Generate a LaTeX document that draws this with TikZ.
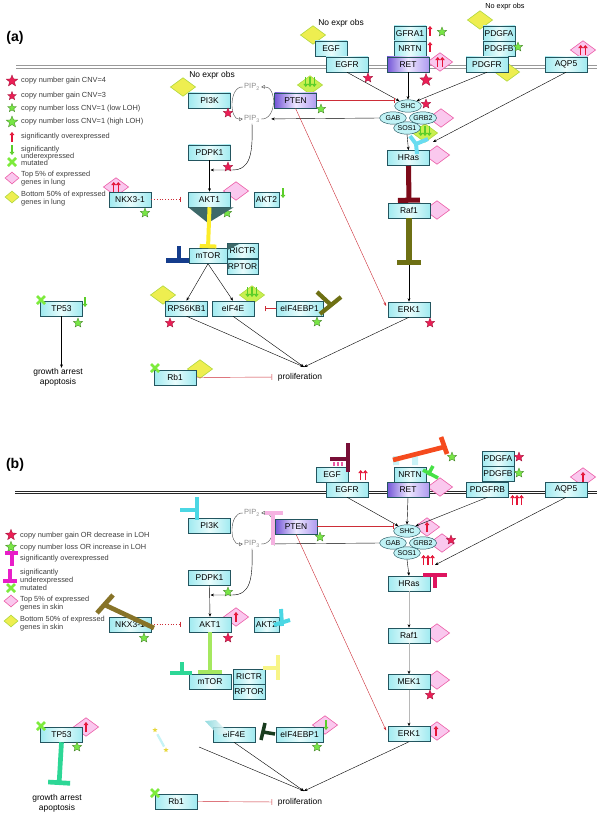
\documentclass[tikz,border=0pt]{standalone}
\usepackage{fontspec}
\setmainfont{Liberation Sans}
\usetikzlibrary{shapes.geometric,arrows.meta,positioning,calc,backgrounds}
\definecolor{BoxCyan}{RGB}{160,234,240}
\definecolor{BoxLight}{RGB}{232,252,252}
\definecolor{BoxLine}{RGB}{35,85,95}
\definecolor{PurpDark}{RGB}{115,85,215}
\definecolor{PurpMid}{RGB}{175,155,240}
\definecolor{PurpLight}{RGB}{238,232,255}
\definecolor{InhRed}{RGB}{205,45,55}
\definecolor{StarRed}{RGB}{235,30,85}
\definecolor{StarGreen}{RGB}{120,230,70}
\definecolor{DiaYellow}{RGB}{238,238,80}
\definecolor{DiaYellowLine}{RGB}{175,215,60}
\definecolor{DiaPink}{RGB}{250,200,238}
\definecolor{DiaPinkLine}{RGB}{235,90,165}
\definecolor{DiaLime}{RGB}{200,240,80}
\definecolor{UpRed}{RGB}{228,20,55}
\definecolor{DownGreen}{RGB}{90,205,40}
\definecolor{MutGreen}{RGB}{125,235,60}
\definecolor{PipGray}{RGB}{140,140,140}
\definecolor{LegText}{RGB}{60,60,60}
\definecolor{WedgeGray}{RGB}{62,105,105}
\definecolor{BarMaroon}{RGB}{125,10,25}
\definecolor{BarOlive}{RGB}{110,112,20}
\definecolor{BarYellow}{RGB}{252,236,40}
\definecolor{BarNavy}{RGB}{20,60,140}
\definecolor{BarCyan}{RGB}{105,220,240}
\definecolor{EgfMaroon}{RGB}{120,15,55}
\definecolor{OrangeRed}{RGB}{245,75,30}
\definecolor{LimeGreen}{RGB}{70,225,70}
\definecolor{HotPink}{RGB}{222,20,95}
\definecolor{LightPink}{RGB}{245,178,225}
\definecolor{CyanB}{RGB}{75,215,228}
\definecolor{BrownOlive}{RGB}{135,115,40}
\definecolor{LightGreen}{RGB}{165,232,95}
\definecolor{SeaGreen}{RGB}{45,215,150}
\definecolor{PaleYellow}{RGB}{248,245,135}
\definecolor{DarkLeaf}{RGB}{25,60,30}
\definecolor{LegMagenta}{RGB}{232,30,200}
\definecolor{SmallYellow}{RGB}{230,215,60}
\newcommand{\genefont}{\fontsize{7.2}{8}\selectfont}
\newcommand{\cplxfont}{\fontsize{6}{7}\selectfont}
\newcommand{\notefont}{\fontsize{7.2}{8.6}\selectfont}
\newcommand{\smallnote}{\fontsize{6.2}{7}\selectfont}
\newcommand{\legfont}{\fontsize{6.3}{7}\selectfont}
\newcommand{\pipfont}{\fontsize{6.4}{7}\selectfont}
\newcommand{\panelfont}{\bfseries\fontsize{12}{14}\selectfont}
% little expression marks
\newcommand{\upone}[2]{\draw[upa] (#1,#2+5) -- (#1,#2-5);}
\newcommand{\uptwo}[2]{\upone{#1-2.3}{#2}\upone{#1+2.3}{#2}}
\newcommand{\upthree}[2]{\upone{#1-4.4}{#2}\upone{#1}{#2}\upone{#1+4.4}{#2}}
\newcommand{\dnone}[2]{\draw[dna] (#1,#2-5) -- (#1,#2+5);}
\newcommand{\dnthree}[2]{\dnone{#1-4.2}{#2}\dnone{#1}{#2}\dnone{#1+4.2}{#2}}
\newcommand{\mutmark}[2]{\draw[mutx] (#1-4,#2-4) -- (#1+4,#2+4) (#1-4,#2+4) -- (#1+4,#2-4);}
\tikzset{
  gene/.style={draw=BoxLine,line width=0.45pt,left color=BoxCyan,right color=BoxCyan,
               middle color=BoxLight,minimum width=1.26cm,minimum height=0.45cm,
               inner sep=0pt,font=\genefont},
  narrow/.style={minimum width=0.96cm},
  slim/.style={minimum width=0.75cm},
  broad/.style={minimum width=1.41cm},
  purpbox/.style={left color=PurpDark,right color=PurpMid,middle color=PurpLight},
  cplx/.style={ellipse,draw=BoxLine,line width=0.4pt,fill=BoxCyan!55!BoxLight,
               minimum width=0.8cm,minimum height=0.37cm,inner sep=0pt,font=\cplxfont},
  arr/.style={-{Stealth[length=3pt,width=2.4pt]},line width=0.35pt},
  inh/.style={-{Bar[width=5pt]},InhRed,line width=0.35pt},
  redarr/.style={-{Stealth[length=3pt,width=2.4pt]},InhRed,line width=0.35pt},
  grayarr/.style={-{Stealth[length=3pt,width=2.4pt,color=black]},black!28,line width=0.8pt},
  cyc/.style={-{Triangle[open,length=3pt,width=3pt]},line width=0.35pt,black!70},
  rstar/.style={star,star points=5,star point ratio=2.3,fill=StarRed,draw=StarRed!70!black,
                line width=0.3pt,minimum size=0.3cm,inner sep=0pt},
  gstar/.style={rstar,fill=StarGreen,draw=StarGreen!60!black},
  bigstar/.style={minimum size=0.39cm},
  ydia/.style={diamond,aspect=1,fill=DiaYellow,draw=DiaYellowLine,line width=0.5pt,
               minimum width=0.76cm,minimum height=0.56cm,inner sep=0pt},
  pdia/.style={ydia,fill=DiaPink,draw=DiaPinkLine},
  ldia/.style={ydia,fill=DiaLime},
  keydia/.style={minimum width=0.42cm,minimum height=0.36cm},
  upa/.style={-{Triangle[length=2.6pt,width=4pt]},UpRed,line width=1.1pt},
  dna/.style={-{Triangle[length=2.6pt,width=4pt]},DownGreen,line width=1.1pt},
  mutx/.style={MutGreen,line width=2.2pt},
  glyph/.style={line width=4pt},
  note/.style={font=\notefont,inner sep=0pt},
  pip/.style={font=\pipfont,text=PipGray,inner sep=1pt},
  legtxt/.style={font=\legfont,text=LegText,anchor=west,inner sep=0pt},
  memA/.style={draw=black!40,double=white,double distance=1.2pt,line width=0.8pt},
  memB/.style={draw=black!85,double=white,double distance=1.3pt,line width=0.55pt},
}

\begin{document}
\begin{tikzpicture}[x=0.03cm,y=-0.03cm]
\useasboundingbox (0,0) rectangle (600,816);
% ================= panel (a): lung =================
\node[font=\panelfont] (labA) at (15,38) {(a)};
\begin{pgfonlayer}{background}
  \draw[memA] (16,67) -- (597,67);
  \node[ydia] (dEGFa) at (313,35) {};
  \node[pdia] (dRETa) at (440,62) {};
  \node[ydia] (dPDGFAa) at (480,20) {};
  \node[ydia] (dPDGFRa) at (507,72) {};
  \node[pdia] (dAQP5a) at (583,50) {};
  \node[ldia] (dPTENa) at (310,85) {};
  \node[ydia] (dPI3Ka) at (183,87) {};
  \node[pdia] (dGRB2a) at (441,118) {};
  \node[ldia] (dSOS1a) at (425,133) {};
  \node[pdia] (dHRasa) at (437,155) {};
  \node[pdia] (dRaf1a) at (437,210) {};
  \node[pdia] (dAKT1a) at (236,191) {};
  \node[pdia] (dNKXa) at (116,187) {};
  \node[ydia] (dRPSa) at (163,295) {};
  \node[ldia] (dEIFa) at (252,295) {};
  \node[ydia] (dRb1a) at (200,369) {};
\end{pgfonlayer}
% receptors and ligands
\node[gene,narrow] (EGFa) at (331,48.5) {EGF};
\node[gene] (EGFRa) at (347,64.5) {EGFR};
\node[gene,narrow] (GFRA1a) at (410,33.5) {GFRA1};
\node[gene,narrow] (NRTNa) at (410,48.5) {NRTN};
\node[gene,purpbox] (RETa) at (408,64.5) {RET};
\node[gene,narrow] (PDGFAa) at (499,33.5) {PDGFA};
\node[gene,narrow] (PDGFBa) at (499,48.5) {PDGFB};
\node[gene] (PDGFRa) at (487,64.5) {PDGFR};
\node[gene] (AQP5a) at (566,64.5) {AQP5};
% PI3K branch
\node[gene] (PI3Ka) at (209.5,100.5) {PI3K};
\node[gene,purpbox] (PTENa) at (295.5,100.5) {PTEN};
\node[pip] (pip2a) at (252,87) {PIP\textsubscript{2}};
\node[pip] (pip3a) at (252,119) {PIP\textsubscript{3}};
\node[gene] (PDPK1a) at (209.5,152.5) {PDPK1};
\node[gene] (AKT1a) at (209.5,199.5) {AKT1};
\node[gene,slim] (AKT2a) at (266.5,199.5) {AKT2};
\node[gene] (NKX31a) at (130,199.5) {NKX3-1};
\node[gene,minimum width=1.14cm] (mTORa) at (208,256) {mTOR};
\node[gene,minimum width=0.93cm] (RICTRa) at (242.5,251) {RICTR};
\node[gene,minimum width=0.93cm] (RPTORa) at (242.5,267) {RPTOR};
\node[gene] (RPS6KB1a) at (186.5,308.5) {RPS6KB1};
\node[gene] (eIF4Ea) at (233,308.5) {eIF4E};
\node[gene,broad] (eIF4EBP1a) at (299.5,308.5) {eIF4EBP1};
\node[gene] (TP53a) at (61.5,308.5) {TP53};
\node[gene] (Rb1a) at (175,377.5) {Rb1};
% MAPK branch
\node[cplx] (SHCa) at (408,106) {SHC};
\node[cplx] (GABa) at (393,118) {GAB};
\node[cplx] (GRB2a) at (423,118) {GRB2};
\node[cplx] (SOS1a) at (407,128) {SOS1};
\node[gene] (HRasa) at (408.5,158) {HRas};
\node[gene] (Raf1a) at (409,210.5) {Raf1};
\node[gene] (ERK1a) at (409,309.5) {ERK1};
\node[note] (prolifA) at (300,377) {proliferation};
\node[note,align=center] (growA) at (58,377) {growth arrest\\apoptosis};
\coordinate (pjA) at (304,367);
\coordinate (akinA) at (210.5,170);
\coordinate (aqpA) at (433,142);
\coordinate (oliveA) at (409,265);
% connections
\draw[arr] (EGFRa.south) -- (SHCa.150);
\draw[arr] (RETa.south) -- (SHCa.north);
\draw[arr] (PDGFRa.south) -- (SHCa.30);
\draw[arr] (AQP5a.south) -- (aqpA);
\draw[arr] (SOS1a.south) -- (HRasa.north);
\draw[inh] (PTENa.east) -- (SHCa.west |- PTENa.east);
\draw[arr,shorten >=0.3cm] (GABa.west) -- (pip3a.east);
\draw[redarr,shorten >=0.12cm] (PTENa.south) -- (ERK1a.west);
\draw[cyc] (pip2a.west) .. controls (229,86) and (229,120) .. (pip3a.west);
\draw[cyc] (pip3a.east) .. controls (277,120) and (277,86) .. (pip2a.east);
\draw[arr] (pip3a.south) .. controls (253,155) and (250,170) .. (232,170) -- (akinA);
\draw[arr] (PDPK1a.south) -- (AKT1a.north);
\draw[inh,dotted,shorten >=0.24cm] (NKX31a.east) -- (AKT1a.west);
\draw[arr] (mTORa.south) -- (RPS6KB1a.north);
\draw[arr] (mTORa.south) -- (eIF4Ea.north);
\draw[inh,shorten >=0.33cm] (eIF4EBP1a.west) -- (eIF4Ea.east);
\draw[arr] (RPS6KB1a.south) -- (pjA);
\draw[arr] (eIF4Ea.south) -- (pjA);
\draw[arr] (ERK1a.south) -- (pjA);
\draw[inh,shorten >=0.17cm] (Rb1a.east) -- (prolifA.west);
\draw[arr] (TP53a.south) -- (TP53a.south |- growA.north);
\draw[arr] (Raf1a.south) -- (ERK1a.north);
% marks
\node[rstar] (sEGFRa) at (368,78) {};
\node[rstar,bigstar] (sRETa) at (426,80) {};
\node[gstar] (sGFRA1a) at (442,32) {};
\node[gstar] (sPDGFBa) at (518,47) {};
\node[rstar] (sSHCa) at (426,104) {};
\node[gstar] (sPTENa) at (321,109) {};
\node[rstar] (sPI3Ka) at (228,113) {};
\node[rstar] (sPDPK1a) at (228,167) {};
\node[gstar] (sAKT1a) at (227,213) {};
\node[gstar] (sNKXa) at (145,213) {};
\node[rstar] (sRPSa) at (170,323) {};
\node[gstar] (sEIFBPa) at (317,322) {};
\node[rstar] (sERK1a) at (430,323) {};
\node[gstar] (sTP53a) at (78,323) {};
\uptwo{440}{62} \uptwo{583}{50} \uptwo{116}{187}
\upone{430}{31} \upone{430}{47}
\dnthree{310}{82} \dnthree{425}{131} \dnthree{252}{292}
\dnone{283}{193} \dnone{85}{302}
\mutmark{41}{300} \mutmark{155}{368}
\node[note] (neEGFa) at (341,23) {No expr obs};
\node[note,font=\smallnote] (nePDGFa) at (505,7) {No expr obs};
\node[note] (nePI3Ka) at (212,75) {No expr obs};
% overlays
\draw[line width=4.3pt,BarMaroon,-{Bar[width=0.66cm]}] (HRasa.south) -- (Raf1a.north);
\draw[line width=4.3pt,BarOlive,-{Bar[width=0.72cm]}] (Raf1a.south) -- (oliveA);
\fill[WedgeGray] (AKT1a.south west) -- ($(AKT1a.south east)+(3,0)$) -- (208,223) -- cycle;
\fill[WedgeGray] (227.5,243.5) -- (240,243.5) -- (227.5,250) -- cycle;
\draw[line width=3.4pt,BarYellow,-{Bar[width=0.5cm]}] (AKT1a.south) -- (mTORa.north);
\draw[glyph,BarNavy] (179,246) -- (179,260) (166,260.5) -- (189,260.5);
\draw[glyph,BarOlive,line width=3.6pt] (320,314) -- (341,297) (317,292) -- (331,305);
\draw[glyph,BarCyan,line width=3.4pt] (410,136) -- (416,144) -- (428,139) (416,144) -- (417,154);
% key
\node[rstar,minimum size=0.36cm] (k1a) at (12,81) {};
\node[legtxt] (t1a) at (21,81) {copy number gain CNV=4};
\node[rstar,minimum size=0.27cm] (k2a) at (12,96) {};
\node[legtxt] (t2a) at (21,96) {copy number gain CNV=3};
\node[gstar,minimum size=0.27cm] (k3a) at (12,108) {};
\node[legtxt] (t3a) at (21,109) {copy number loss CNV=1 (low LOH)};
\node[gstar,minimum size=0.36cm] (k4a) at (12,122) {};
\node[legtxt] (t4a) at (21,122) {copy number loss CNV=1 (high LOH)};
\upone{12}{137}
\node[legtxt] (t5a) at (21,137) {significantly overexpressed};
\dnone{12}{150}
\node[legtxt] (t6a) at (21,150) {significantly};
\node[legtxt] (t7a) at (21,157) {underexpressed};
\mutmark{12}{162}
\node[legtxt] (t8a) at (21,163) {mutated};
\node[pdia,keydia] (k9a) at (12,178) {};
\node[legtxt] (t9a) at (21,174.5) {Top 5\% of expressed};
\node[legtxt] (t10a) at (21,183) {genes in lung};
\node[ydia,keydia] (k11a) at (12,197) {};
\node[legtxt] (t11a) at (21,195) {Bottom 50\% of expressed};
\node[legtxt] (t12a) at (21,203) {genes in lung};

% ================= panel (b): skin =================
\begin{scope}[shift={(0,425)}]
\node[font=\panelfont] (labB) at (15,40) {(b)};
\begin{pgfonlayer}{background}
  \draw[memB] (15,67.5) -- (597,67.5);
  \node[pdia] (dRETb) at (440,62) {};
  \node[pdia] (dAQP5b) at (583,52) {};
  \node[pdia] (dSHCb) at (427,102) {};
  \node[pdia] (dGRB2b) at (442,118) {};
  \node[pdia] (dRaf1b) at (437,208) {};
  \node[pdia] (dMEK1b) at (437,255) {};
  \node[pdia] (dERK1b) at (437,306) {};
  \node[pdia] (dAKT1b) at (236,192) {};
  \node[pdia] (dTP53b) at (86,302) {};
  \node[pdia] (dEIFBPb) at (325,300) {};
\end{pgfonlayer}
\node[gene,narrow] (EGFb) at (332,49.5) {EGF};
\node[gene] (EGFRb) at (347,64.5) {EGFR};
\fill[BoxCyan!80,opacity=0.7] (393,31) rectangle (399,40) (412,31) rectangle (418,40);
\node[gene,narrow] (NRTNb) at (410,49.5) {NRTN};
\node[gene,purpbox] (RETb) at (408,64.5) {RET};
\node[gene,narrow] (PDGFAb) at (498,33.5) {PDGFA};
\node[gene,narrow] (PDGFBb) at (498,48.5) {PDGFB};
\node[gene] (PDGFRBb) at (487.5,64.5) {PDGFRB};
\node[gene] (AQP5b) at (566,64.5) {AQP5};
\node[gene] (PI3Kb) at (209.5,100.5) {PI3K};
\node[gene,purpbox] (PTENb) at (296,101.5) {PTEN};
\node[pip] (pip2b) at (252,88) {PIP\textsubscript{2}};
\node[pip] (pip3b) at (252,119) {PIP\textsubscript{3}};
\node[gene] (PDPK1b) at (209.5,152.5) {PDPK1};
\node[gene] (AKT1b) at (210,199.5) {AKT1};
\node[gene,slim] (AKT2b) at (266.5,199.5) {AKT2};
\node[gene] (NKX31b) at (130,199.5) {NKX3-1};
\node[gene] (mTORb) at (210,257) {mTOR};
\node[gene,narrow] (RICTRb) at (249,252) {RICTR};
\node[gene,narrow] (RPTORb) at (249,267) {RPTOR};
\node[gene] (eIF4Eb) at (234,309.5) {eIF4E};
\node[gene,broad] (eIF4EBP1b) at (299.5,309.5) {eIF4EBP1};
\node[gene] (TP53b) at (61.5,309.5) {TP53};
\node[gene] (Rb1b) at (176,376.5) {Rb1};
\node[cplx] (SHCb) at (407,106) {SHC};
\node[cplx] (GABb) at (393,118) {GAB};
\node[cplx] (GRB2b) at (423,118) {GRB2};
\node[cplx] (SOS1b) at (407,128) {SOS1};
\node[gene] (HRasb) at (409,158.5) {HRas};
\node[gene] (Raf1b) at (409,210.5) {Raf1};
\node[gene] (MEK1b) at (409,257) {MEK1};
\node[gene] (ERK1b) at (409,309) {ERK1};
\node[note] (prolifB) at (300,377) {proliferation};
\node[note,align=center] (growB) at (57,378) {growth arrest\\apoptosis};
\coordinate (pjB) at (304,366);
\coordinate (akinB) at (210.5,170);
\coordinate (aqpB) at (435,140);
\coordinate (rpsB) at (199,322);
\coordinate (teeTP53b) at (59,360);
% connections
\draw[arr] (EGFRb.south) -- (SHCb.150);
\draw[arr] (RETb.south) -- (SHCb.north);
\draw[arr] (PDGFRBb.south) -- (SHCb.30);
\draw[arr] (AQP5b.south) -- (aqpB);
\draw[arr] (SOS1b.south) -- (HRasb.north);
\draw[inh] (PTENb.east) -- (SHCb.west |- PTENb.east);
\draw[arr,shorten >=0.3cm] (GABb.west) -- (pip3b.east);
\draw[redarr,shorten >=0.12cm] (PTENb.south) -- (ERK1b.west);
\draw[cyc] (pip2b.west) .. controls (229,87) and (229,120) .. (pip3b.west);
\draw[cyc] (pip3b.east) .. controls (277,120) and (277,87) .. (pip2b.east);
\draw[arr] (pip3b.south) .. controls (253,155) and (250,170) .. (232,170) -- (akinB);
\draw[arr] (PDPK1b.south) -- (AKT1b.north);
\draw[inh,dotted,shorten >=0.24cm] (NKX31b.east) -- (AKT1b.west);
\draw[grayarr] (HRasb.south) -- (Raf1b.north);
\draw[grayarr] (Raf1b.south) -- (MEK1b.north);
\draw[grayarr] (MEK1b.south) -- (ERK1b.north);
\draw[arr] (rpsB) -- (pjB);
\draw[arr] (eIF4Eb.south) -- (pjB);
\draw[arr] (ERK1b.south) -- (pjB);
\draw[inh,shorten >=0.17cm] (Rb1b.east) -- (prolifB.west);
% marks
\node[gstar] (sNRTNb) at (452,32) {};
\node[rstar] (sPDGFAb) at (519,32) {};
\node[gstar] (sPDGFBb) at (519,48) {};
\node[rstar] (sGRB2b) at (451,115) {};
\node[gstar] (sPTENb) at (320,112) {};
\node[gstar] (sPDPK1b) at (228,167) {};
\node[rstar] (sAKT1b) at (228,213) {};
\node[rstar] (sMEK1b) at (430,270) {};
\node[gstar] (sEIFBPb) at (317,322) {};
\node[gstar] (sTP53b) at (77,322) {};
\node[star,star points=5,star point ratio=2.3,fill=SmallYellow,inner sep=0pt,minimum size=0.16cm] (ys1b) at (155,305) {};
\node[star,star points=5,star point ratio=2.3,fill=SmallYellow,inner sep=0pt,minimum size=0.16cm] (ys2b) at (166,325) {};
\draw[BoxCyan!60,line width=2pt,shorten <=2pt,shorten >=2pt] (ys1b) -- (ys2b);
\uptwo{363}{50} \upthree{517}{75} \upone{583}{52} \upone{427}{102}
\upthree{428}{135} \upone{236}{192} \upone{86}{302} \upone{436}{306}
\dnone{326}{300}
\mutmark{41}{301} \mutmark{155}{368}
% overlays
\draw[glyph,EgfMaroon] (348,18) -- (348,47) (330,34) -- (348,34);
\draw[DiaPinkLine,line width=0.9pt] (334,37) -- (334,41) (338,37) -- (338,41) (342,37) -- (342,41);
\draw[glyph,OrangeRed] (393,35) -- (444,22) (441,12) -- (447,29);
\draw[glyph,LimeGreen,line width=3pt] (423,45) -- (438,53) (433,41) -- (428,50);
\draw[glyph,HotPink] (423,150) -- (447,150) (435,150) -- (435,163);
\draw[glyph,LightPink] (265,88) -- (283,88) (273,88) -- (273,120);
\draw[glyph,CyanB] (197,72) -- (197,95) (180,85) -- (197,85);
\draw[glyph,CyanB,line width=3.4pt] (281,184) -- (282,201) (274,200) -- (290,195);
\draw[glyph,BrownOlive] (97,188) -- (113,170) (105,180) -- (154,203);
\node[gstar] (sNKXb) at (144,213) {};
\draw[line width=4pt,LightGreen,-{Bar[width=0.72cm]}] (AKT1b.south) -- (mTORb.north);
\draw[glyph,SeaGreen] (182,237) -- (182,248) (170,248) -- (192,248);
\draw[glyph,PaleYellow] (278,230) -- (278,255) (263,243) -- (278,243);
\shade[left color=BoxCyan!80!teal,right color=white,opacity=0.85] (205,296) -- (216,295) -- (229,308) -- (218,310) -- cycle;
\draw[glyph,DarkLeaf,line width=3pt] (261,315) -- (265,298) (263,307) -- (275,309);
\draw[line width=4pt,SeaGreen,-{Bar[width=0.66cm]}] (TP53b.south) -- (teeTP53b);
% key
\node[rstar,minimum size=0.34cm] (k1b) at (11,110) {};
\node[legtxt] (t1b) at (20,111) {copy number gain OR decrease in LOH};
\node[gstar,minimum size=0.34cm] (k2b) at (11,122) {};
\node[legtxt] (t2b) at (20,123) {copy number loss OR increase in LOH};
\draw[glyph,LegMagenta,line width=3.4pt] (5,128) -- (18,128) (12,128) -- (12,141);
\node[legtxt] (t3b) at (20,134) {significantly overexpressed};
\draw[glyph,LegMagenta,line width=3.4pt] (10,144) -- (10,156) (3,156) -- (17,156);
\node[legtxt] (t4b) at (20,148) {significantly};
\node[legtxt] (t5b) at (20,156) {underexpressed};
\mutmark{11}{163}
\node[legtxt] (t6b) at (20,163) {mutated};
\node[pdia,keydia] (k7b) at (11,176) {};
\node[legtxt] (t7b) at (20,175) {Top 5\% of expressed};
\node[legtxt] (t8b) at (20,183) {genes in skin};
\node[ydia,keydia] (k9b) at (11,196) {};
\node[legtxt] (t9b) at (20,195) {Bottom 50\% of expressed};
\node[legtxt] (t10b) at (20,203) {genes in skin};
\end{scope}
\end{tikzpicture}
\end{document}
